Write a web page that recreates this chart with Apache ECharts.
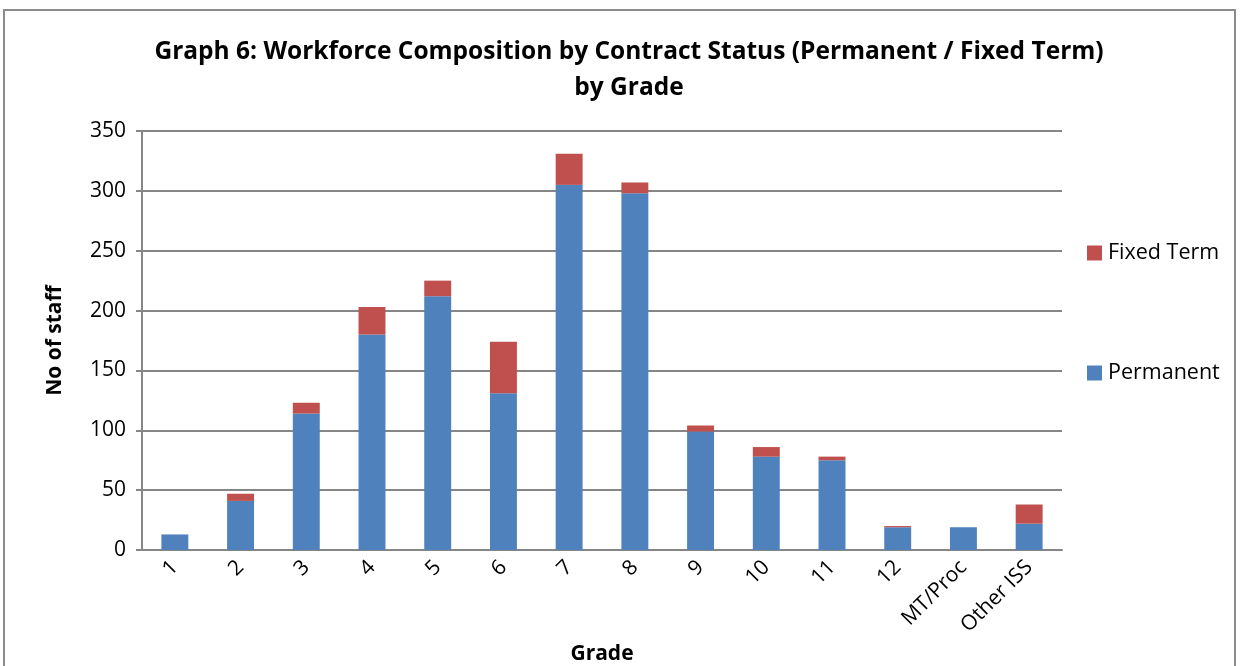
<!DOCTYPE html>
<html>
<head>
<meta charset="utf-8">
<script src="https://cdn.jsdelivr.net/npm/echarts@6/dist/echarts.min.js"></script>
<style>
  html, body { margin: 0; padding: 0; background: #fff; }
  #chart { width: 1240px; height: 666px; }
  #frame { position: absolute; left: 3px; top: 9px; width: 1233px; height: 670px; border: 2px solid #8c8c8c; box-sizing: border-box; pointer-events: none; }
</style>
</head>
<body>
<div id="chart"></div>
<div id="frame"></div>
<script>
// grades on the x axis
const grades = ['1', '2', '3', '4', '5', '6', '7', '8', '9', '10', '11', '12', 'MT/Proc', 'Other ISS'];
// staff counts
const permanent = [13, 41, 114, 180, 212, 131, 305, 298, 99, 78, 75, 19, 19, 22];
const fixedTerm = [0, 6, 9, 23, 13, 43, 26, 9, 5, 8, 3, 1, 0, 16];

const font = 'Open Sans';
const chart = echarts.init(document.getElementById('chart'));
const option = {
  backgroundColor: '#fff',
  animation: false,
  title: {
    text: 'Graph 6: Workforce Composition by Contract Status (Permanent / Fixed Term)\nby Grade',
    left: 624,
    textAlign: 'center',
    top: 29,
    textStyle: {
      fontFamily: font,
      fontWeight: 'bold',
      fontSize: 24.5,
      lineHeight: 36,
      color: '#000'
    }
  },
  legend: {
    orient: 'vertical',
    left: 1082,
    top: 237,
    itemGap: 98,
    itemWidth: 15,
    itemHeight: 15,
    icon: 'rect',
    data: ['Fixed Term', 'Permanent'],
    textStyle: { fontFamily: font, fontSize: 21.5, color: '#000', padding: [0, 0, 0, 1] }
  },
  grid: { left: 142, right: 178, top: 131, bottom: 116, outerBoundsMode: 'none' },
  xAxis: {
    type: 'category',
    data: grades,
    name: 'Grade',
    nameLocation: 'middle',
    nameGap: 90,
    nameTextStyle: { fontFamily: font, fontWeight: 'bold', fontSize: 21, color: '#000' },
    axisLine: { lineStyle: { color: '#868686', width: 2 } },
    axisTick: { alignWithLabel: false, length: 7, lineStyle: { color: '#868686', width: 2 } },
    axisLabel: { rotate: 45, fontFamily: font, fontSize: 21, color: '#000', margin: 14 }
  },
  yAxis: {
    type: 'value',
    min: 0,
    max: 350,
    interval: 50,
    name: 'No of staff',
    nameLocation: 'middle',
    nameGap: 76,
    nameTextStyle: { fontFamily: font, fontWeight: 'bold', fontSize: 21, color: '#000' },
    axisLine: { show: true, lineStyle: { color: '#868686', width: 2 } },
    axisTick: { show: true, length: 6, lineStyle: { color: '#868686', width: 2 } },
    axisLabel: { fontFamily: font, fontSize: 21, color: '#000', margin: 16 },
    splitLine: { lineStyle: { color: '#868686', width: 2 } }
  },
  series: [
    {
      name: 'Permanent',
      type: 'bar',
      stack: 'staff',
      barWidth: '41%',
      data: permanent,
      itemStyle: { color: '#4F81BD' }
    },
    {
      name: 'Fixed Term',
      type: 'bar',
      stack: 'staff',
      data: fixedTerm,
      itemStyle: { color: '#C0504D' }
    }
  ]
};
chart.setOption(option);
</script>
</body>
</html>
